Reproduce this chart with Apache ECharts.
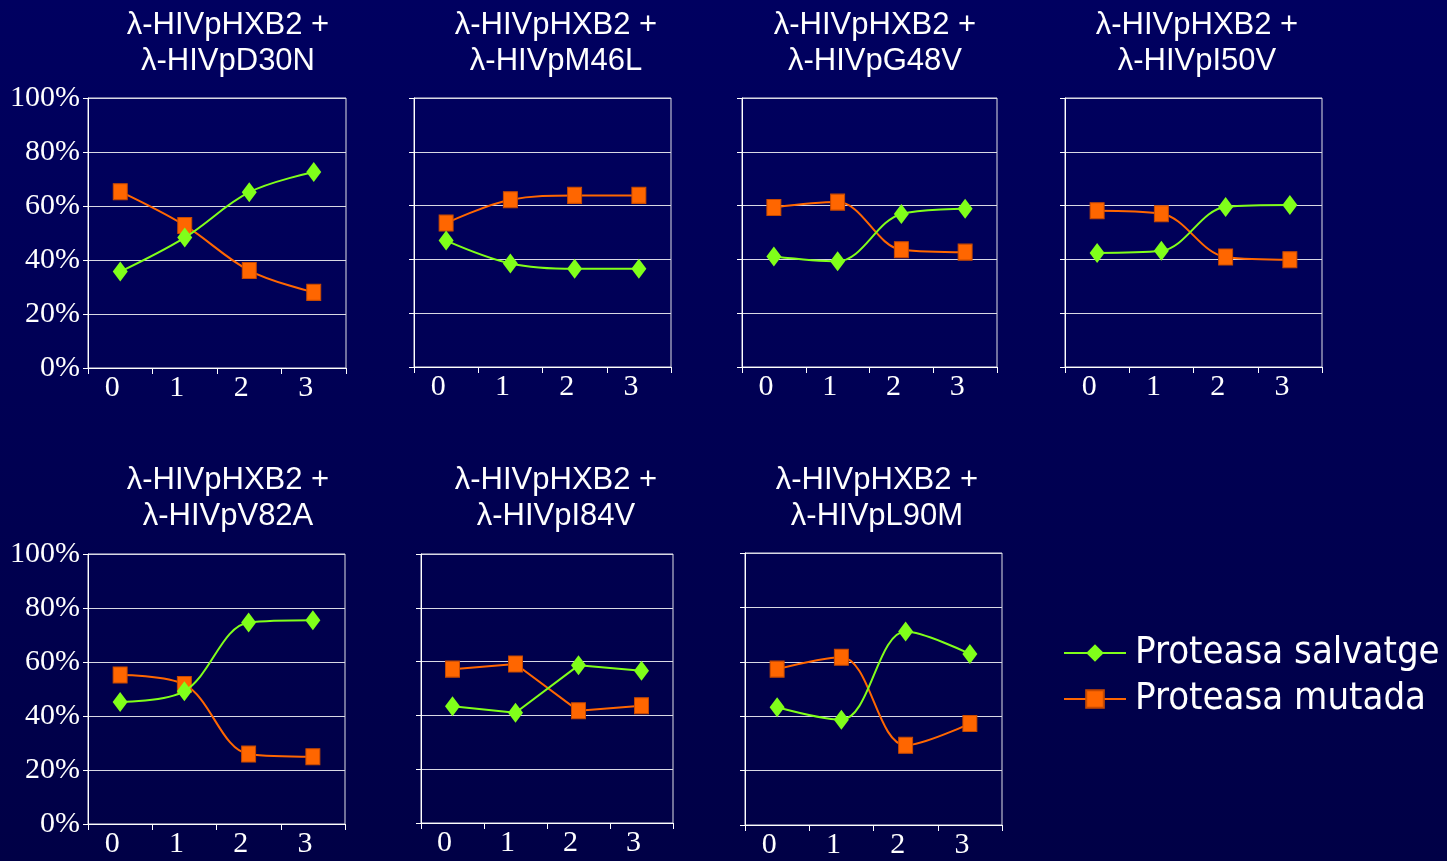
<!DOCTYPE html>
<html>
<head>
<meta charset="utf-8">
<script src="https://cdn.jsdelivr.net/npm/echarts@6/dist/echarts.min.js"></script>
<style>
html,body{margin:0;padding:0;width:1447px;height:861px;overflow:hidden;background:#000058;}
#chart{width:1447px;height:861px;}
</style>
</head>
<body>
<div id="chart"></div>
<script>
// ---- data ----
const categories = ['0', '1', '2', '3'];
const panelTitles = [
  'λ-HIVpHXB2 +\nλ-HIVpD30N',
  'λ-HIVpHXB2 +\nλ-HIVpM46L',
  'λ-HIVpHXB2 +\nλ-HIVpG48V',
  'λ-HIVpHXB2 +\nλ-HIVpI50V',
  'λ-HIVpHXB2 +\nλ-HIVpV82A',
  'λ-HIVpHXB2 +\nλ-HIVpI84V',
  'λ-HIVpHXB2 +\nλ-HIVpL90M'
];
const seriesNames = ['Proteasa salvatge', 'Proteasa mutada'];
const salvatgeD30N = [35.7, 48.3, 65.1, 72.6];
const mutadaD30N   = [65.3, 52.8, 36.1, 28.0];
const salvatgeM46L = [47.0, 38.5, 36.5, 36.5];
const mutadaM46L   = [53.5, 62.2, 63.8, 63.8];
const salvatgeG48V = [41.1, 39.3, 56.9, 58.8];
const mutadaG48V   = [59.3, 61.3, 43.6, 42.7];
const salvatgeI50V = [42.4, 43.2, 59.5, 60.2];
const mutadaI50V   = [58.1, 57.0, 40.9, 39.9];
const salvatgeV82A = [45.2, 49.2, 74.6, 75.5];
const mutadaV82A   = [55.2, 51.7, 25.9, 24.9];
const salvatgeI84V = [43.4, 41.0, 58.6, 56.6];
const mutadaI84V   = [57.2, 59.1, 41.7, 43.6];
const salvatgeL90M = [43.3, 38.7, 71.1, 62.9];
const mutadaL90M   = [57.3, 61.7, 29.3, 37.3];
const yMin = 0, yMax = 100, yStep = 20;

const panelData = [
  [salvatgeD30N, mutadaD30N],
  [salvatgeM46L, mutadaM46L],
  [salvatgeG48V, mutadaG48V],
  [salvatgeI50V, mutadaI50V],
  [salvatgeV82A, mutadaV82A],
  [salvatgeI84V, mutadaI84V],
  [salvatgeL90M, mutadaL90M]
];

// ---- layout ----
const grids = [
  {left: 88,  top: 98,  width: 258, height: 270, labels: true,  smooth: true},
  {left: 414, top: 98,  width: 257, height: 269, labels: false, smooth: true},
  {left: 742, top: 98,  width: 255, height: 269, labels: false, smooth: true},
  {left: 1065,top: 98,  width: 257, height: 269, labels: false, smooth: true},
  {left: 88,  top: 554, width: 257, height: 270, labels: true,  smooth: true},
  {left: 421, top: 554, width: 252, height: 269, labels: false, smooth: false},
  {left: 745, top: 553, width: 257, height: 272, labels: false, smooth: true}
];
const titleTops = [2, 2, 2, 2, 457, 457, 457];
const titleCenters = [223, 551, 870, 1192, 223, 551, 872];

const green = '#80ff1a';
const orange = '#ff6600';

const option = {
  backgroundColor: {
    type: 'linear', x: 0, y: 0, x2: 0, y2: 1,
    colorStops: [{offset: 0, color: '#000060'}, {offset: 1, color: '#000046'}]
  },
  animation: false,
  title: panelTitles.map((t, i) => ({
    text: t,
    left: titleCenters[i],
    top: titleTops[i],
    textAlign: 'center',
    textStyle: {color: '#ffffff', fontFamily: 'Liberation Sans, Arial, sans-serif', fontSize: 31, fontWeight: 'normal', lineHeight: 36}
  })),
  legend: {
    data: seriesNames,
    orient: 'vertical',
    left: 1058,
    top: 629,
    itemWidth: 62,
    itemHeight: 22,
    itemGap: 8,
    textStyle: {color: '#ffffff', fontSize: 38, fontFamily: "'DejaVu Sans Condensed', 'DejaVu Sans', sans-serif", padding: [0, 0, 0, 4]}
  },
  grid: grids.map(g => ({
    left: g.left, top: g.top, width: g.width, height: g.height,
    show: true, borderColor: '#e0e0e8', borderWidth: 1, backgroundColor: 'transparent'
  })),
  xAxis: grids.map((g, i) => ({
    type: 'category', gridIndex: i, data: categories, boundaryGap: true,
    axisLine: {show: true, lineStyle: {color: '#ffffff', width: 1}},
    axisTick: {show: true, length: 6, lineStyle: {color: '#ffffff'}},
    axisLabel: {color: '#ffffff', fontFamily: 'Liberation Serif, Times New Roman, serif', fontSize: 30, margin: 5, padding: [0, 16, 0, 0]},
    splitLine: {show: false}
  })),
  yAxis: grids.map((g, i) => ({
    type: 'value', gridIndex: i, min: yMin, max: yMax, interval: yStep,
    axisLine: {show: true, lineStyle: {color: '#ffffff', width: 1}},
    axisTick: {show: true, length: 5, lineStyle: {color: '#ffffff'}},
    axisLabel: {show: g.labels, color: '#ffffff', fontFamily: 'Liberation Serif, Times New Roman, serif', fontSize: 30, margin: 8, formatter: v => v + '%'},
    splitLine: {show: true, lineStyle: {color: '#d8d8e4', width: 1}}
  })),
  series: []
};

panelData.forEach((pair, i) => {
  option.series.push({
    name: seriesNames[0], type: 'line', xAxisIndex: i, yAxisIndex: i,
    data: pair[0], smooth: grids[i].smooth ? 0.35 : false,
    symbol: 'diamond', symbolSize: [15, 20],
    lineStyle: {color: green, width: 2},
    itemStyle: {color: green},
    z: 3
  });
  option.series.push({
    name: seriesNames[1], type: 'line', xAxisIndex: i, yAxisIndex: i,
    data: pair[1], smooth: grids[i].smooth ? 0.35 : false,
    symbol: 'rect', symbolSize: [14, 16],
    lineStyle: {color: orange, width: 2},
    itemStyle: {color: orange, borderColor: '#c84a00', borderWidth: 1},
    z: 2
  });
});

const chart = echarts.init(document.getElementById('chart'));
chart.setOption(option);
</script>
</body>
</html>
